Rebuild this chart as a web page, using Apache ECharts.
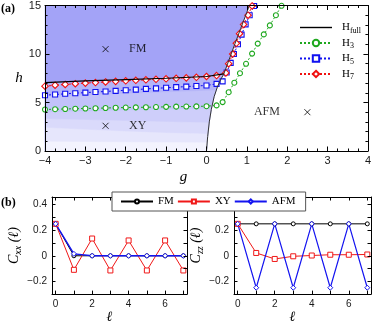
<!DOCTYPE html>
<html>
<head>
<meta charset="utf-8">
<script src="https://cdn.jsdelivr.net/npm/echarts@6/dist/echarts.min.js"></script>
<style>
  html, body { margin: 0; padding: 0; background: #fff; }
  #chart { width: 374px; height: 325px; }
</style>
</head>
<body>
<div id="chart"></div>
<script>
// ---- panel (a): phase diagram ----
var gFlat = [-4, -3.75, -3.5, -3.25, -3, -2.75, -2.5, -2.25, -2, -1.75, -1.5, -1.25, -1, -0.75, -0.5, -0.25, 0, 0.25];
var h3Flat = [4.28, 4.31, 4.33, 4.36, 4.38, 4.41, 4.43, 4.46, 4.48, 4.5, 4.51, 4.53, 4.55, 4.57, 4.58, 4.6, 4.62, 4.7];
var h5Flat = [5.75, 5.82, 5.9, 5.96, 6.02, 6.08, 6.14, 6.2, 6.27, 6.33, 6.4, 6.46, 6.52, 6.58, 6.64, 6.7, 6.76, 6.92];
var h7Flat = [6.68, 6.78, 6.86, 6.94, 7.0, 7.06, 7.12, 7.18, 7.24, 7.29, 7.34, 7.39, 7.44, 7.49, 7.54, 7.6, 7.68, 7.78];
var h3Steep = [[0.4, 5.04], [0.55, 6.06], [0.69, 7.04], [0.83, 8.02], [0.98, 8.99], [1.13, 10.04], [1.27, 11.07], [1.42, 12.02], [1.57, 12.95], [1.72, 14.0], [1.86, 14.97]];
var h5Steep = [[0.4, 7.18], [0.5, 8.1], [0.6, 9.08], [0.68, 10.0], [0.78, 11.0], [0.87, 12.0], [0.97, 13.05], [1.07, 14.0], [1.18, 14.95]];
var h7Steep = [[0.48, 8.05], [0.55, 9.0], [0.65, 10.0], [0.74, 11.1], [0.82, 12.1], [0.92, 13.05], [1.03, 14.0], [1.13, 14.95]];
var hFullFlat = [[-4, 7.05], [-3, 7.22], [-2, 7.36], [-1, 7.5], [0, 7.68], [0.43, 7.95]];
var hFullAfm = [[0, 0], [0.03, 1.5], [0.07, 3], [0.12, 4.3], [0.19, 5.6], [0.27, 6.6], [0.35, 7.35], [0.43, 7.95], [0.55, 9.3], [0.7, 11.0], [0.85, 12.65], [1.0, 14.3], [1.06, 15]];
// upper edges of the shaded bands in the XY phase
var band2 = [[-4, 5.6], [-3, 5.75], [-2, 5.9], [-1, 6.05], [0, 6.2], [0.24, 6.25]];
var band3 = [[-4, 4.0], [-3, 4.1], [-2, 4.2], [-1, 4.3], [0, 4.35], [0.12, 4.35]];
var band4 = [[-4, 3.3], [-3, 3.2], [-2, 3.1], [-1, 3.0], [0, 2.9], [0.07, 2.9]];
var band5 = [[-4, 2.4], [-3, 2.2], [-2, 2.0], [-1, 1.85], [0, 1.75], [0.035, 1.75]];
var band6 = [[-4, 0.95], [-2, 0.9], [0, 0.85], [0.017, 0.85]];
var phaseNames = ['FM', 'XY', 'AFM'];
var phasePoints = [[-2.5, 10.5], [-2.5, 2.6], [2.5, 4.0]];

// ---- panel (b): correlations ----
var ell = [0, 1, 2, 3, 4, 5, 6, 7];
var cxxFM = [0.25, 0, 0, 0, 0, 0, 0, 0];
var cxxXY = [0.25, -0.11, 0.135, -0.115, 0.12, -0.115, 0.12, -0.115];
var cxxAFM = [0.25, 0.015, 0, 0, 0, 0, 0, 0];
var czzFM = [0.25, 0.25, 0.25, 0.25, 0.25, 0.25, 0.25, 0.25];
var czzXY = [0.25, 0.022, -0.025, -0.004, 0.002, 0.008, 0.008, 0.01];
var czzAFM = [0.25, -0.25, 0.25, -0.25, 0.25, -0.25, 0.25, -0.25];

var SANS = 'Liberation Sans';
var SERIF = 'Liberation Serif';

function pairs(xs, ys) {
  return xs.map(function (x, i) { return [x, ys[i]]; });
}

// polygon: band top edge, then down the AFM boundary to h=0
function bandPolygon(top) {
  var last = top[top.length - 1];
  var pts = top.slice();
  for (var i = hFullAfm.length - 1; i >= 0; i--) {
    if (hFullAfm[i][1] < last[1]) pts.push(hFullAfm[i]);
  }
  pts.push([-4, 0]);
  return pts;
}
var fmPoly = [[-4, 15]];
for (var i = hFullAfm.length - 1; i >= 0; i--) {
  if (hFullAfm[i][1] >= 7.95) fmPoly.push(hFullAfm[i]);
}
for (var j = hFullFlat.length - 2; j >= 0; j--) fmPoly.push(hFullFlat[j]);

var regions = [fmPoly, bandPolygon(hFullFlat), bandPolygon(band2), bandPolygon(band3),
  bandPolygon(band4), bandPolygon(band5), bandPolygon(band6)];
var regionColors = ['#a3a3f7', '#b5b5f8', '#c2c2f9', '#cecefa', '#dadafb', '#e6e6fc', '#f3f3fe'];

function minus(v) { return String(v).replace('-', '\u2212'); }

function xAx(grid, pos, opt) {
  var a = {
    type: 'value', gridIndex: grid, position: pos, z: 10,
    axisLine: { show: true, onZero: false, lineStyle: { color: '#000', width: 1 } },
    axisTick: { show: true, inside: true, length: 4.5, lineStyle: { color: '#000' } },
    axisLabel: { show: pos === 'bottom', color: '#1a1a1a', fontFamily: SANS, fontSize: 11, margin: 4, formatter: minus },
    splitLine: { show: false }
  };
  return Object.assign(a, opt);
}

var tickB = { show: true, inside: true, length: 3.5, lineStyle: { color: '#000' }, customValues: [0, 1, 2, 3, 4, 5, 6, 7] };
var tickBY = { show: true, inside: true, length: 3.5, lineStyle: { color: '#000' }, customValues: [-0.3, -0.2, -0.1, 0, 0.1, 0.2, 0.3, 0.4] };

function bAxisX(grid, pos, nameOpt) {
  return xAx(grid, pos, Object.assign({
    min: -0.2, max: 7.2,
    axisTick: tickB,
    axisLabel: { show: pos === 'bottom', color: '#1a1a1a', fontFamily: SANS, fontSize: 10, margin: 5, customValues: [0, 2, 4, 6] }
  }, nameOpt || {}));
}
function bAxisY(grid, pos, nameOpt) {
  return xAx(grid, pos, Object.assign({
    min: -0.3, max: 0.46,
    axisTick: tickBY,
    axisLabel: { show: pos === 'left', color: '#1a1a1a', fontFamily: SANS, fontSize: 10, margin: 5, customValues: [-0.2, 0, 0.2, 0.4], formatter: minus }
  }, nameOpt || {}));
}

var cRich = {
  i: { fontFamily: SERIF, fontStyle: 'italic', fontSize: 14, lineHeight: 18, verticalAlign: 'middle' },
  s: { fontFamily: SERIF, fontStyle: 'italic', fontSize: 10, lineHeight: 18, verticalAlign: 'bottom' }
};
var ellName = { fontFamily: SERIF, fontStyle: 'italic', fontSize: 14, color: '#000' };

function lineH(name, data, color, symbol, size) {
  return {
    name: name, type: 'line', xAxisIndex: 0, yAxisIndex: 0, z: 3,
    data: data, symbol: symbol, symbolSize: size,
    lineStyle: { color: color, width: 1, type: [2, 2] },
    itemStyle: { color: '#fff', borderColor: color, borderWidth: 1.1 }
  };
}
function lineB(name, axis, data, color, symbol, size, width) {
  return {
    name: name, type: 'line', xAxisIndex: axis, yAxisIndex: axis, z: 3,
    data: data, symbol: symbol, symbolSize: size,
    lineStyle: { color: color, width: width },
    itemStyle: { color: '#fff', borderColor: color, borderWidth: 1 }
  };
}

var legendNames = { Hfull: 'H{s|full}', H3: 'H{s|3}', H5: 'H{s|5}', H7: 'H{s|7}' };

var option = {
  animation: false,
  backgroundColor: '#fff',
  grid: [
    { left: 45, top: 5, width: 326, height: 146 },
    { left: 52, top: 197, width: 135, height: 103 },
    { left: 234, top: 197, width: 137, height: 103 }
  ],
  xAxis: [
    xAx(0, 'bottom', {
      min: -4, max: 4, interval: 1,
      minorTick: { show: true, splitNumber: 4, length: 2.5, lineStyle: { color: '#000' } },
      name: 'g', nameLocation: 'middle', nameGap: 19,
      nameTextStyle: { fontFamily: SERIF, fontStyle: 'italic', fontSize: 15, color: '#000', padding: [0, 46, 0, 0] }
    }),
    xAx(0, 'top', {
      min: -4, max: 4, interval: 1,
      minorTick: { show: true, splitNumber: 4, length: 2.5, lineStyle: { color: '#000' } }
    }),
    bAxisX(1, 'bottom', { name: '\u2113', nameLocation: 'middle', nameGap: 15, nameTextStyle: Object.assign({ padding: [0, 20, 0, 0] }, ellName) }),
    bAxisX(1, 'top'),
    bAxisX(2, 'bottom', { name: '\u2113', nameLocation: 'middle', nameGap: 15, nameTextStyle: Object.assign({ padding: [0, 20, 0, 0] }, ellName) }),
    bAxisX(2, 'top')
  ],
  yAxis: [
    xAx(0, 'left', {
      min: 0, max: 15, interval: 5,
      axisLabel: { show: true, color: '#1a1a1a', fontFamily: SANS, fontSize: 11, margin: 4 },
      minorTick: { show: true, splitNumber: 5, length: 2.5, lineStyle: { color: '#000' } },
      name: 'h', nameLocation: 'middle', nameGap: 22, nameRotate: 0,
      nameTextStyle: { fontFamily: SERIF, fontStyle: 'italic', fontSize: 15, color: '#000' }
    }),
    xAx(0, 'right', {
      min: 0, max: 15, interval: 5,
      axisLabel: { show: false },
      minorTick: { show: true, splitNumber: 5, length: 2.5, lineStyle: { color: '#000' } }
    }),
    bAxisY(1, 'left', { name: '{i|C}{s|xx}{i| (\u2113)}', nameLocation: 'middle', nameGap: 24, nameRotate: 90, nameTextStyle: { rich: cRich } }),
    bAxisY(1, 'right'),
    bAxisY(2, 'left', { name: '{i|C}{s|zz}{i| (\u2113)}', nameLocation: 'middle', nameGap: 18, nameRotate: 90, nameTextStyle: { rich: cRich } }),
    bAxisY(2, 'right')
  ],
  legend: [
    {
      data: [{ name: 'Hfull', icon: 'path://M0,0L32,0L32,1.4L0,1.4Z', itemStyle: { color: '#000' } }, 'H3', 'H5', 'H7'],
      orient: 'vertical', left: 294, top: 17, z: 20,
      itemWidth: 32, itemHeight: 8, itemGap: 3,
      formatter: function (n) { return legendNames[n]; },
      textStyle: {
        fontFamily: SERIF, fontSize: 11, color: '#000', padding: [0, 0, 0, 5],
        rich: { s: { fontFamily: SERIF, fontSize: 8, lineHeight: 14, verticalAlign: 'bottom' } }
      }
    },
    {
      data: ['FM', 'XY', 'AFM'],
      orient: 'horizontal', left: 112, top: 192, z: 20,
      padding: [4, 10, 4, 8], itemGap: 3,
      itemWidth: 32, itemHeight: 5,
      backgroundColor: '#fff', borderColor: '#555', borderWidth: 1, borderRadius: 0,
      textStyle: { fontFamily: SERIF, fontSize: 11, color: '#000' }
    }
  ],
  graphic: [
    { type: 'text', left: 1, top: 3, style: { text: '(a)', fontFamily: SERIF, fontWeight: 'bold', fontSize: 12, fill: '#000' } },
    { type: 'text', left: 1, top: 197, style: { text: '(b)', fontFamily: SERIF, fontWeight: 'bold', fontSize: 12, fill: '#000' } }
  ],
  series: [
    {
      type: 'custom', xAxisIndex: 0, yAxisIndex: 0, z: 1, silent: true,
      data: regions.map(function (r, k) { return [k]; }),
      renderItem: function (params, api) {
        var k = params.dataIndex;
        return {
          type: 'polygon',
          shape: { points: regions[k].map(function (p) { return api.coord(p); }) },
          style: { fill: regionColors[k], stroke: regionColors[k], lineWidth: 0.5 }
        };
      }
    },
    {
      name: 'Hfull', type: 'line', xAxisIndex: 0, yAxisIndex: 0, z: 4,
      data: hFullFlat, symbol: 'none', lineStyle: { color: '#000', width: 1.2 }, itemStyle: { color: '#000' }
    },
    {
      name: 'Hfull', type: 'line', xAxisIndex: 0, yAxisIndex: 0, z: 4,
      data: hFullAfm, symbol: 'none', lineStyle: { color: '#333', width: 1 }, itemStyle: { color: '#000' }
    },
    lineH('H3', pairs(gFlat, h3Flat).concat(h3Steep), '#1fa81f', 'circle', 5),
    lineH('H5', pairs(gFlat, h5Flat).concat(h5Steep), '#1010f0', 'rect', 5),
    lineH('H7', pairs(gFlat, h7Flat).concat(h7Steep), '#f01010', 'diamond', 6.5),
    {
      type: 'scatter', xAxisIndex: 0, yAxisIndex: 0, z: 5, silent: true,
      symbol: 'path://M0,0L10,10M10,0L0,10', symbolSize: 6,
      itemStyle: { color: 'none', borderColor: '#000', borderWidth: 1 },
      data: phasePoints.map(function (p, k) {
        return {
          value: p, name: phaseNames[k],
          label: k === 2 ? { position: 'left', distance: 22 } : { position: 'right', distance: 18 }
        };
      }),
      label: { show: true, formatter: '{b}', fontFamily: SERIF, fontSize: 12, color: '#000' }
    },
    lineB('FM', 2, pairs(ell, cxxFM), '#000', 'circle', 4, 1),
    lineB('XY', 2, pairs(ell, cxxXY), '#f01818', 'rect', 5, 1),
    lineB('AFM', 2, pairs(ell, cxxAFM), '#1414f0', 'diamond', 5, 1.4),
    lineB('FM', 4, pairs(ell, czzFM), '#000', 'circle', 4, 1),
    lineB('XY', 4, pairs(ell, czzXY), '#f01818', 'rect', 5, 1),
    lineB('AFM', 4, pairs(ell, czzAFM), '#1414f0', 'diamond', 5, 1.2)
  ]
};

var chart = echarts.init(document.getElementById('chart'), null, { renderer: 'canvas' });
chart.setOption(option);
</script>
</body>
</html>
